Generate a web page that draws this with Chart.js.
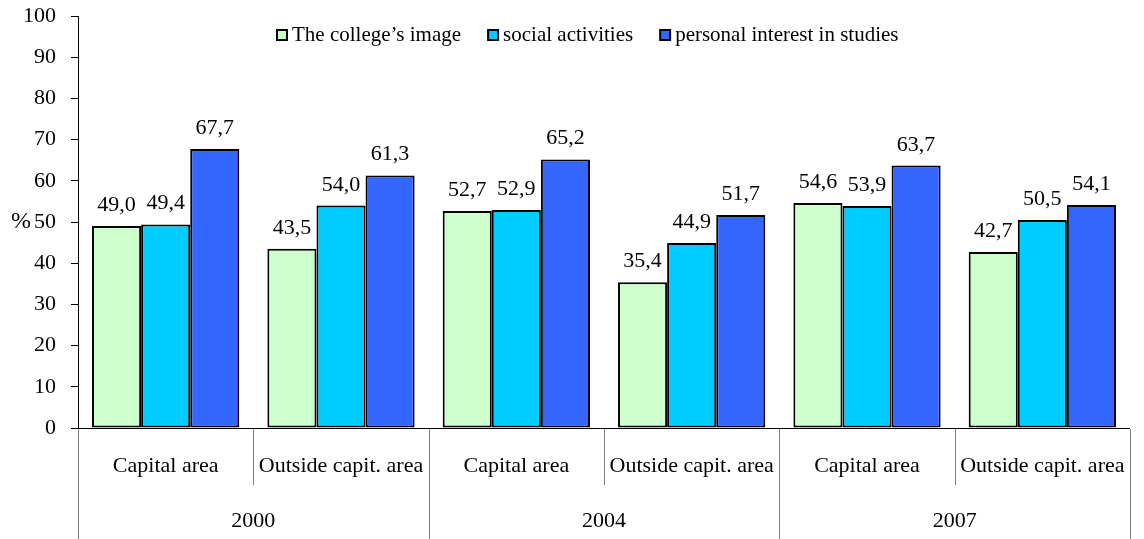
<!DOCTYPE html>
<html>
<head>
<meta charset="utf-8">
<script src="https://cdn.jsdelivr.net/npm/chart.js@4.4.1/dist/chart.umd.min.js"></script>
<style>
  html, body { margin: 0; padding: 0; background: #fff; }
  #wrap { width: 1144px; height: 539px; }
</style>
</head>
<body>
<div id="wrap"><canvas id="motivChart"></canvas></div>
<script>
const areas = ['Capital area', 'Outside capit. area', 'Capital area', 'Outside capit. area', 'Capital area', 'Outside capit. area'];
const years = ['2000', '2004', '2007'];
const collegeImage = [49.0, 43.5, 52.7, 35.4, 54.6, 42.7];
const socialActivities = [49.4, 54.0, 52.9, 44.9, 53.9, 50.5];
const personalInterest = [67.7, 61.3, 65.2, 51.7, 63.7, 54.1];
const yTicks = [0, 10, 20, 30, 40, 50, 60, 70, 80, 90, 100];

const serif = '"Liberation Serif", "Times New Roman", serif';

// labels, legend, separators etc
const extras = {
  id: 'extras',
  afterDatasetsDraw(chart) {
    const ctx = chart.ctx;
    const x = chart.scales.x, y = chart.scales.y;
    const area = chart.chartArea;
    const catW = (x.right - x.left) / areas.length;
    ctx.save();

    // value labels
    ctx.font = '22px ' + serif;
    ctx.fillStyle = '#000';
    ctx.textAlign = 'center';
    ctx.textBaseline = 'alphabetic';
    chart.data.datasets.forEach((ds, di) => {
      chart.getDatasetMeta(di).data.forEach((bar, i) => {
        ctx.fillText(ds.data[i].toFixed(1).replace('.', ','), bar.x, bar.y - 15);
      });
    });

    // x axis line
    const y0 = y.getPixelForValue(0);
    ctx.strokeStyle = '#000';
    ctx.lineWidth = 1;
    ctx.beginPath();
    ctx.moveTo(area.left - 7, y0 + 0.5);
    ctx.lineTo(area.right, y0 + 0.5);
    ctx.stroke();

    // separators
    ctx.strokeStyle = '#7f7f7f';
    for (let i = 0; i <= areas.length; i++) {
      const px = Math.round(x.left + i * catW) + 0.5;
      const bottom = (i % 2 === 0) ? chart.height : y0 + 57;
      ctx.beginPath();
      ctx.moveTo(px, y0 + 1);
      ctx.lineTo(px, bottom);
      ctx.stroke();
    }

    // category labels
    ctx.fillStyle = '#000';
    ctx.font = '22px ' + serif;
    ctx.textBaseline = 'middle';
    areas.forEach((a, i) => {
      ctx.fillText(a, x.getPixelForValue(i), y0 + 38);
    });
    years.forEach((yr, i) => {
      const cx = (x.getPixelForValue(2 * i) + x.getPixelForValue(2 * i + 1)) / 2;
      ctx.fillText(yr, cx, y0 + 93);
    });

    // axis title
    ctx.font = '24px ' + serif;
    ctx.textAlign = 'left';
    ctx.fillText('%', 11, y.getPixelForValue(50));

    // legend
    ctx.font = '21px ' + serif;
    ctx.textBaseline = 'middle';
    let lx = 277;
    const ly = 35;
    chart.data.datasets.forEach(ds => {
      ctx.fillStyle = ds.backgroundColor;
      ctx.fillRect(lx, ly - 5, 10, 10);
      ctx.strokeStyle = '#000';
      ctx.lineWidth = 2;
      ctx.strokeRect(lx, ly - 5, 10, 10);
      ctx.fillStyle = '#000';
      ctx.fillText(ds.label, lx + 15, ly);
      lx += 15 + ctx.measureText(ds.label).width + 27;
    });
    ctx.restore();
  }
};

const barData = {
  labels: areas,
  datasets: [
    { label: 'The college\u2019s image', data: collegeImage, backgroundColor: '#CCFFCC' },
    { label: 'social activities', data: socialActivities, backgroundColor: '#00CCFF' },
    { label: 'personal interest in studies', data: personalInterest, backgroundColor: '#3366FF' }
  ].map(d => Object.assign(d, {
    borderColor: '#000',
    borderWidth: 2,
    borderSkipped: false,
    categoryPercentage: 0.84,
    barPercentage: 1.0
  }))
};

const config = {
  type: 'bar',
  data: barData,
  options: {
    responsive: true,
    maintainAspectRatio: false,
    animation: false,
    layout: { padding: { left: 0, right: 14, top: 16, bottom: 0 } },
    plugins: {
      legend: { display: false },
      tooltip: { enabled: false }
    },
    scales: {
      x: {
        grid: { display: false },
        border: { display: false },
        ticks: { display: false },
        afterFit: s => { s.height = 111; s.paddingLeft = 0; s.paddingRight = 0; }
      },
      y: {
        min: 0,
        max: 100,
        afterBuildTicks: s => { s.ticks = yTicks.map(v => ({ value: v })); },
        grid: { drawOnChartArea: false, drawTicks: true, tickLength: 7, color: '#000' },
        border: { display: true, color: '#000', width: 1 },
        ticks: { color: '#000', padding: 15, font: { family: serif, size: 22 } },
        afterFit: s => { s.width = 78; s.paddingTop = 0; s.paddingBottom = 0; }
      }
    }
  },
  plugins: [extras]
};

const motivChart = new Chart(document.getElementById('motivChart'), config);
</script>
</body>
</html>
